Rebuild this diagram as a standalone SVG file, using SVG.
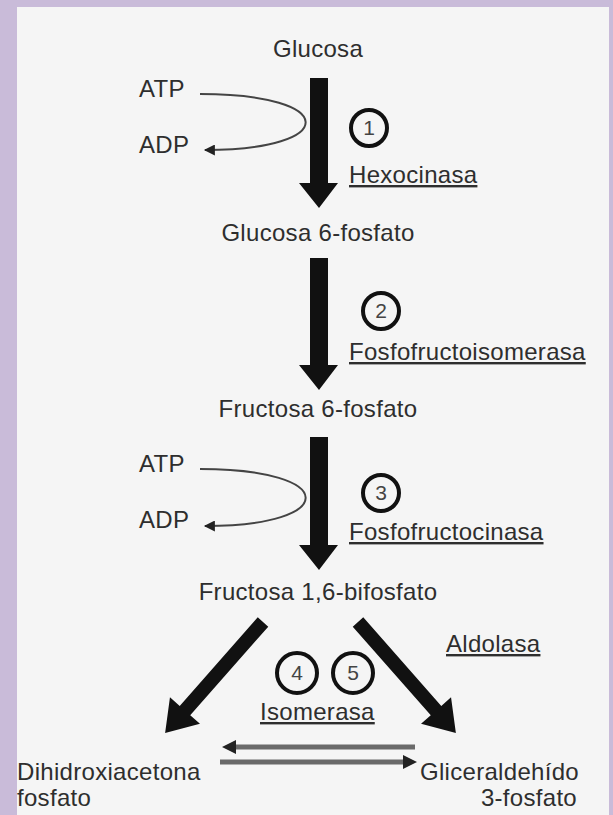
<svg xmlns="http://www.w3.org/2000/svg" width="613" height="815" viewBox="0 0 613 815">
<defs>
<style>
text{font-family:"Liberation Sans",Arial,sans-serif;fill:#2e2e2e;font-size:24px;letter-spacing:0.3px}
.num{font-size:21px;fill:#444;text-anchor:middle;letter-spacing:0}
.enz{text-decoration:underline}
.c{text-anchor:middle}
.loop{fill:none;stroke:#444;stroke-width:2}
.ring{fill:none;stroke:#111;stroke-width:4}
.big{fill:#111}
.gl{stroke:#6a6a6a;stroke-width:5}
</style>
<marker id="small" viewBox="0 0 10 10" refX="9" refY="5" markerWidth="12" markerHeight="11" markerUnits="userSpaceOnUse" orient="auto">
<path d="M0,0 L10,5 L0,10 z" fill="#222"/>
</marker>
</defs>
<rect width="613" height="815" fill="#c9bbd9"/>
<rect x="17" y="7" width="592" height="808" fill="#f5f5f5"/>

<g id="connectors">
<path class="big" d="M310,78 H328 V183 H338 L319,208 L299,183 H310 Z"/>
<path class="big" d="M310,258 H328 V365 H338 L319,390 L299,365 H310 Z"/>
<path class="big" d="M310,437 H328 V545 H338 L319,570 L299,545 H310 Z"/>
<path class="loop" d="M200,94 C340,94 340,150 205,150" marker-end="url(#small)"/>
<path class="loop" d="M200,469 C340,469 340,526 205,526" marker-end="url(#small)"/>
<path class="big" transform="translate(263,622) rotate(131.4)" d="M0,-7 H118 V-20 L148,0 L118,20 V7 H0 Z"/>
<path class="big" transform="translate(358,622) rotate(48.6)" d="M0,-7 H118 V-20 L148,0 L118,20 V7 H0 Z"/>
<line class="gl" x1="415" y1="747" x2="232" y2="747"/>
<path d="M222,747 L236,740 L236,754 Z" fill="#222"/>
<line class="gl" x1="220" y1="762" x2="405" y2="762"/>
<path d="M417,762 L403,755 L403,769 Z" fill="#222"/>
</g>

<g id="glucosa"><text class="c" x="318" y="57">Glucosa</text></g>
<g id="atp1"><text x="139" y="97">ATP</text></g>
<g id="adp1"><text x="139" y="153">ADP</text></g>
<g id="step1"><circle class="ring" cx="369" cy="128" r="18"/><text class="num" x="369" y="135">1</text></g>
<g id="hexocinasa"><text class="enz" x="349" y="183">Hexocinasa</text></g>
<g id="glucosa6f"><text class="c" x="318" y="241">Glucosa 6-fosfato</text></g>
<g id="step2"><circle class="ring" cx="381" cy="311" r="18"/><text class="num" x="381" y="318">2</text></g>
<g id="ffi"><text class="enz" x="349" y="360">Fosfofructoisomerasa</text></g>
<g id="fructosa6f"><text class="c" x="318" y="417">Fructosa 6-fosfato</text></g>
<g id="atp2"><text x="139" y="472">ATP</text></g>
<g id="adp2"><text x="139" y="528">ADP</text></g>
<g id="step3"><circle class="ring" cx="381" cy="493" r="18"/><text class="num" x="381" y="500">3</text></g>
<g id="ffc"><text class="enz" x="349" y="540">Fosfofructocinasa</text></g>
<g id="fructosa16bf"><text class="c" x="318" y="600">Fructosa 1,6-bifosfato</text></g>
<g id="aldolasa"><text class="enz" x="446" y="652">Aldolasa</text></g>
<g id="step4"><circle class="ring" cx="297" cy="673" r="20"/><text class="num" x="297" y="680">4</text></g>
<g id="step5"><circle class="ring" cx="353" cy="673" r="20"/><text class="num" x="353" y="680">5</text></g>
<g id="isomerasa"><text class="enz" x="260" y="720">Isomerasa</text></g>
<g id="dhap"><text x="17" y="780">Dihidroxiacetona</text><text x="17" y="806">fosfato</text></g>
<g id="g3p"><text x="420" y="780">Gliceraldehído</text><text x="577" y="806" text-anchor="end">3-fosfato</text></g>
</svg>
